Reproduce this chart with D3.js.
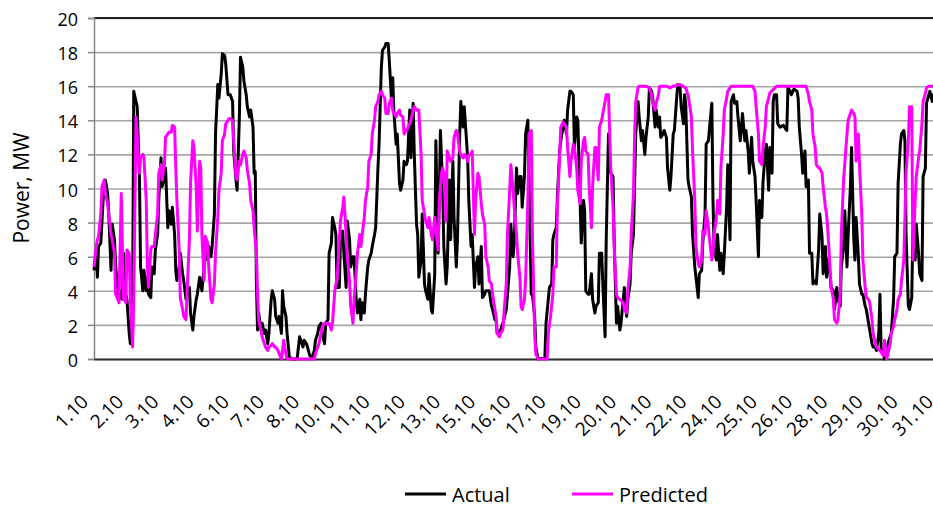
<!DOCTYPE html>
<html>
<head>
<meta charset="utf-8">
<script src="https://cdn.jsdelivr.net/npm/d3@7"></script>
<style>
  body { margin: 0; background: #fff; }
  #chart { width: 933px; height: 507px; overflow: hidden; }
  text { font-family: "Open Sans", sans-serif; fill: #000; }
</style>
</head>
<body>
<div id="chart"></div>
<script>
//tick labels, one every 31 hours
var dayLabels = ["1.10", "2.10", "3.10", "4.10", "6.10", "7.10", "8.10", "10.10", "11.10", "12.10", "13.10", "15.10", "16.10",
    "17.10", "19.10", "20.10", "21.10", "22.10", "24.10", "25.10", "26.10", "28.10", "29.10", "30.10", "31.10"];
var labelStep = 31;
var yTicks = [0, 2, 4, 6, 8, 10, 12, 14, 16, 18, 20];

//[hour of month, MW]
var actual = [[0,5.2],[2,6.4],[3,4.8],[4,6.6],[6,6.8],[8,9.3],[10,10.5],[12,9.7],[13,8.5],[15,5.2],[16,7.9],[18,7.0],[19,5.6],[21,3.8],[22,3.5],[24,4.0],[25,3.5],[26,6.2],[28,3.8],[29,3.5],[31,1.5],[32,0.9],[34,3.5],[35,15.7],[37,15.1],[38,14.8],[40,10.7],[41,5.4],[43,4.0],[44,5.2],[46,4.0],[47,4.8],[48,3.8],[50,3.6],[51,5.4],[53,5.0],[54,6.4],[56,7.3],[57,9.3],[59,11.8],[60,10.1],[62,10.7],[63,11.2],[65,7.7],[66,8.7],[68,7.9],[69,8.9],[71,7.3],[72,5.2],[73,4.6],[75,5.4],[76,6.2],[78,5.0],[79,4.6],[81,3.5],[82,4.0],[84,4.2],[85,2.7],[87,1.7],[88,2.5],[90,3.5],[91,3.8],[93,4.8],[94,4.4],[95,4.0],[97,5.4],[98,7.0],[100,5.8],[101,6.6],[103,6.0],[104,6.6],[106,8.5],[107,13.2],[109,16.1],
    [110,15.3],[112,16.7],[113,17.9],[115,17.8],[116,17.3],[118,15.5],[119,15.5],[120,15.5],[122,15.1],[123,12.2],[125,10.5],[126,9.9],[128,14.2],[129,17.7],[131,17.1],[132,16.3],[134,15.5],[135,14.8],[137,14.2],[138,14.6],[140,13.6],[141,10.9],[142,11.0],[143,4.4],[144,1.7],[145,2.7],[147,1.7],[148,2.1],[150,1.5],[151,1.7],[153,0.9],[154,1.5],[156,3.5],[157,4.0],[159,3.5],[160,2.5],[162,2.1],[163,2.5],[165,1.5],[166,4.0],[167,3.1],[169,2.5],[170,1.5],[172,0.1],[175,0],[178,0],[179,0.1],[181,1.3],[182,1.1],[184,0.7],[185,1.1],[187,0.9],[188,0.7],[190,0.2],[192,0.1],[194,0.5],[195,1.1],[197,1.5],[198,1.9],[200,2.1],[201,1.5],[203,0.9],[204,2.1],[206,2.3],[207,6.2],[209,6.8],[210,8.3],[212,7.7],[213,7.3],[214,4.2],[216,4.2],[217,7.0],[219,7.5],[220,6.2],[222,4.2],[223,8.1],[225,7.0],[226,5.4],[228,6.0],[229,6.0],[231,3.3],[232,2.7],[234,3.5],[235,2.3],[236,3.3],[238,2.7],[239,3.8],[241,5.4],[242,5.8],[244,6.2],[245,6.6],[247,7.3],[248,7.7],[250,11.2],
    [251,12.6],[253,17.1],[254,18.1],[256,18.3],[257,18.5],[259,18.5],[260,17.5],[262,15.1],[263,16.5],[264,14.6],[266,12.6],[267,13.2],[269,10.3],[270,9.9],[272,10.5],[273,11.6],[275,11.4],[276,11.6],[278,14.6],[279,11.8],[281,15.0],[282,12.0],[284,7.9],[285,7.3],[286,4.8],[288,5.8],[289,8.5],[291,4.4],[292,4.0],[294,3.5],[295,5.0],[297,2.9],[298,2.7],[300,5.0],[301,12.8],[303,6.2],[304,9.3],[305,13.4],[307,10.1],[308,6.6],[310,4.4],[311,5.4],[313,10.5],[314,7.0],[316,11.6],[317,8.3],[319,5.4],[320,7.0],[322,13.2],[323,15.1],[325,13.6],[326,14.8],[328,12.8],[329,11.8],[330,9.3],[332,6.6],[333,7.3],[335,4.2],[336,5.4],[338,6.0],[339,4.4],[341,6.6],[342,3.6],[344,3.8],[345,4.0],[348,4.0],[350,3.1],[351,2.9],[353,2.3],[354,2.3],[355,1.5],[357,1.5],[360,2.1],[363,2.9],[366,5.4],[367,7.9],[369,6.0],[370,6.8],[372,11.2],[373,9.7],[375,10.7],[376,10.7],[377,8.9],[379,10.7],[380,13.2],[382,14.0],[383,10.5],[385,3.8],[386,3.8],[388,2.5],[389,0.7],[391,0],
    [397,0.1],[398,2.1],[400,3.5],[401,4.2],[403,4.4],[404,7.0],[405,7.3],[407,7.7],[408,9.5],[410,12.2],[411,12.8],[413,13.6],[414,14.0],[416,13.2],[417,14.6],[419,15.7],[420,15.7],[422,15.5],[423,12.4],[425,14.2],[426,14.0],[428,9.3],[429,6.8],[431,9.3],[432,8.7],[433,4.0],[435,3.8],[436,3.8],[438,5.0],[439,3.5],[441,2.7],[442,3.1],[444,3.3],[445,6.2],[447,6.2],[448,4.4],[450,1.3],[451,7.0],[453,13.2],[454,11.6],[455,10.9],[457,10.7],[458,7.0],[460,2.1],[461,3.1],[463,1.7],[464,2.1],[466,3.5],[467,4.2],[469,2.5],[470,3.5],[472,4.4],[473,6.2],[475,7.3],[476,10.3],[477,13.2],[479,15.1],[480,14.2],[482,12.8],[483,13.4],[485,12.0],[486,13.0],[488,14.2],[489,15.9],[491,15.7],[492,15.3],[494,13.6],[495,14.6],[497,13.6],[498,14.2],[499,13.0],[501,13.2],[502,13.4],[504,13.0],[505,11.2],[507,9.9],[508,10.7],[510,13.2],[511,13.4],[513,15.3],[514,16.1],[516,15.9],[517,14.8],[519,13.8],[520,15.5],[521,15.0],[523,10.5],[524,10.1],[526,9.5],[527,7.3],[529,5.4],[530,4.8],[532,3.6],[533,5.0],[535,5.2],[536,6.8],[538,8.5],[539,12.6],[541,12.8],[542,13.6],[544,15.0],[545,9.3],[546,6.6],[548,5.8],[549,7.3],[551,5.2],[552,6.2],[554,5.0],[555,6.2],[557,8.9],[558,11.4],
    [560,7.0],[561,15.1],[563,15.5],[564,15.0],[566,15.1],[567,14.2],[569,12.8],[570,13.6],[571,14.4],[573,12.8],[574,13.4],[576,12.2],[577,10.9],[579,13.0],[580,11.6],[582,10.7],[583,9.3],[585,6.0],[586,9.3],[588,8.3],[589,10.3],[591,12.2],[592,12.6],[594,9.9],[595,12.4],[597,10.9],[598,15.1],[599,15.5],[601,15.5],[602,13.8],[604,13.6],[607,13.7],[608,13.6],[610,13.4],[611,15.9],[613,15.7],[614,15.5],[616,15.8],[617,15.8],[619,15.7],[620,15.3],[621,13.6],[623,12.0],[624,10.9],[626,12.2],[627,10.1],[629,10.5],[630,6.2],[632,6.2],[633,4.4],[635,4.6],[636,4.4],[638,6.4],[639,8.5],[641,7.2],[642,5.0],[644,6.6],[645,4.8],[646,5.8],[648,5.0],[649,4.2],[651,4.0],[652,2.9],[654,4.2],[655,3.5],[657,3.1],[658,5.4],[660,6.6],[661,8.7],[663,5.4],[664,7.3],[666,10.1],[667,12.4],[669,7.0],[670,5.8],[671,8.3],[673,6.0],[674,4.4],[676,3.8],[677,3.8],[679,3.1],[680,2.9],[682,2.1],[683,1.7],[685,0.9],[686,0.7],[688,0.7],[689,0.5],[691,1.5],[692,3.8],[693,0.7],[695,0.3],[696,0],[698,0.3],[699,0.9],[701,1.3],[702,1.5],[704,3.5],[705,6.0],[707,6.2],[708,10.3],[710,12.6],[711,13.2],[713,13.4],[714,12.8],[715,7.3],[717,3.1],[718,2.9],[720,3.6],[721,7.5],[723,5.8],[724,7.9],[726,6.2],[727,5.0],[729,4.6],[730,10.7],[732,11.2],[733,15.0],[735,15.5],[736,15.7],[738,15.1],[739,15.5],[741,14.8],[744,15.2]];

var predicted = [[0,5.4],[2,6.6],[3,7.0],[4,7.2],[6,8.5],[7,10.1],[9,10.5],[10,9.7],[12,9.1],[13,8.5],[15,7.3],[16,7.0],[18,6.2],[19,3.8],[21,3.5],[22,3.3],[23,6.4],[24,9.7],[26,3.5],[27,3.5],[28,3.3],[29,6.4],[31,6.2],[32,3.5],[34,0.7],[35,3.5],[37,14.2],[38,13.2],[40,10.9],[41,11.8],[43,12.0],[44,11.8],[46,9.3],[47,5.4],[48,4.2],[50,6.4],[51,6.6],[53,6.6],[54,7.3],[56,8.5],[57,10.9],[59,11.4],[60,10.5],[62,11.4],[63,13.0],[65,13.2],[66,13.3],[68,13.3],[69,13.7],[71,13.6],[72,11.2],[73,9.3],[75,6.4],[76,3.6],[78,2.9],[79,2.5],[81,2.3],[82,4.0],[84,7.0],[85,10.3],[87,12.8],[88,12.4],[90,10.1],[91,7.5],[93,11.6],[94,11.2],[95,7.3],[97,4.6],[98,7.2],[100,6.8],[101,5.4],[103,3.5],[104,3.3],[106,4.4],[107,6.2],[109,8.3],
    [110,9.9],[112,10.9],[113,12.8],[115,13.2],[116,13.8],[118,14.0],[119,14.1],[120,14.1],[122,14.0],[123,12.8],[125,10.7],[126,10.5],[128,11.6],[129,11.4],[131,12.0],[132,12.2],[134,11.8],[135,11.1],[137,10.3],[138,9.3],[140,8.7],[141,7.7],[143,6.2],[144,3.8],[145,2.3],[147,1.7],[148,1.3],[151,0.7],[153,0.5],[154,0.7],[156,0.8],[157,0.9],[159,0.7],[160,0.7],[162,0.5],[163,0.3],[165,0],[166,0.5],[167,1.1],[169,0.3],[170,0],[194,0],[195,0.3],[197,0.7],[198,0.9],[200,1.5],[201,1.9],[203,2.1],[207,2.1],[209,1.7],[210,2.1],[212,4.0],[213,4.4],[214,4.6],[216,7.0],[217,8.1],[219,8.9],[220,9.5],[222,7.3],[223,6.0],[225,4.6],[226,3.1],[228,2.1],[229,3.5],[231,5.2],[232,6.2],[234,7.3],[235,6.6],[236,7.2],[238,8.3],[239,9.3],[241,10.1],[242,11.6],[244,12.0],[245,13.2],[247,14.0],[248,14.8],[250,15.1],
    [251,15.5],[253,15.7],[254,15.5],[256,15.3],[257,14.4],[259,14.4],[260,15.0],[262,15.3],[263,14.6],[264,14.4],[266,14.2],[267,14.4],[269,14.6],[270,14.3],[272,14.2],[273,13.2],[275,13.4],[276,13.5],[278,13.8],[279,14.0],[281,14.6],[282,14.8],[284,14.6],[286,14.6],[288,12.0],[289,9.3],[291,8.5],[292,8.1],[294,7.7],[295,8.3],[297,7.3],[298,7.0],[300,8.3],[301,7.5],[303,6.4],[304,9.3],[306,10.9],[307,11.2],[308,10.9],[310,8.1],[311,12.2],[313,11.8],[314,11.6],[316,11.8],[317,13.0],[319,13.4],[320,13.2],[322,12.2],[323,12.0],[325,11.8],[326,12.0],[328,11.8],[329,11.6],[330,12.0],[332,12.0],[333,12.2],[335,7.3],[336,9.3],[338,10.9],[339,10.7],[341,9.1],[342,8.5],[344,7.9],[345,6.0],[347,5.4],[348,4.6],[350,4.4],[351,3.8],[353,2.9],[354,2.5],[355,1.5],[357,1.3],[358,1.5],[360,1.7],[361,2.7],[363,4.4],[364,7.3],[366,9.9],[367,11.4],[369,9.9],[370,8.9],[372,7.3],[373,6.2],[375,4.8],[376,3.1],[377,2.9],[379,3.5],[380,4.6],[382,9.3],[383,13.2],[385,13.4],[386,7.3],[388,1.5],[389,0.3],[391,0],
    [399,0],[400,1.5],[402,2.5],[404,3.8],[405,5.4],[407,5.4],[408,8.9],[410,12.0],[411,13.6],[413,13.9],[414,13.8],[416,13.6],[417,12.4],[419,10.7],[420,11.6],[422,12.6],[423,12.4],[425,11.2],[426,9.9],[428,9.1],[429,11.6],[431,12.8],[432,13.0],[433,12.2],[435,12.0],[436,10.1],[438,7.7],[439,10.1],[441,12.4],[442,12.4],[444,10.5],[445,13.6],[447,14.0],[448,14.4],[450,15.1],[451,15.5],[453,15.5],[454,13.4],[455,11.2],[457,8.9],[458,6.6],[460,3.8],[461,3.6],[463,3.5],[466,3.3],[467,2.9],[469,2.7],[470,4.0],[472,5.4],[473,7.3],[475,9.7],[476,13.2],[477,15.1],[479,15.9],[480,16.0],[486,16.0],[489,15.9],[491,15.5],[492,15.0],[494,14.6],[495,15.0],[497,15.5],[498,16.0],[504,16.0],[507,15.9],[510,16.0],[516,16.1],[521,15.9],[523,15.5],[524,15.1],[526,14.2],[527,12.2],[529,9.3],[530,6.6],[532,5.6],[533,5.4],[535,5.8],[536,7.5],[538,7.3],[539,8.7],[541,7.7],[542,7.0],[544,5.8],[545,6.2],[546,7.3],[548,8.3],[549,9.3],[551,8.5],[552,11.2],[554,13.2],[555,14.6],[557,15.3],[558,15.7],
    [560,15.9],[561,16.0],[580,16.0],[582,15.7],[583,14.8],[585,13.2],[586,11.6],[588,11.4],[589,12.4],[591,13.6],[592,14.8],[594,15.3],[595,15.6],[598,15.8],[601,16.0],[627,16.0],[629,15.5],[630,15.1],[632,14.6],[633,13.2],[635,12.4],[636,11.4],[638,11.2],[639,11.2],[641,10.9],[642,10.1],[644,8.9],[645,8.5],[646,7.7],[648,5.4],[649,4.2],[651,3.5],[652,2.3],[654,2.1],[655,2.3],[657,3.8],[658,7.3],[660,10.5],[661,11.4],[663,13.2],[664,14.0],[666,14.4],[667,14.6],[669,14.4],[670,14.2],[671,11.6],[673,13.2],[674,11.4],[676,8.5],[677,5.8],[679,4.2],[680,3.6],[682,3.5],[683,3.3],[685,2.3],[686,1.5],[688,0.9],[689,0.7],[692,0.5],[695,0.2],[696,1.1],[698,0],[699,0.3],[701,0.9],[702,1.5],[704,1.9],[705,2.3],[707,2.9],[708,3.5],[710,3.8],[711,4.6],[713,5.8],[714,8.3],[715,10.9],[717,12.8],[718,14.8],[720,14.8],[721,5.8],[723,9.3],[724,10.7],[726,11.8],[727,12.2],[729,13.8],[730,15.1],[732,15.6],[733,15.9],[735,16.0],[744,16.0]];

var seriesNames = ["Actual", "Predicted"],
    seriesColors = ["#000000", "#ff00ff"];

//chart frame dimensions
var svgWidth = 933,
    svgHeight = 507,
    leftPadding = 94,
    topPadding = 18,
    chartInnerWidth = 845,
    chartInnerHeight = 341;

var x = d3.scaleLinear()
    .domain([0, labelStep * (dayLabels.length - 1)])
    .range([0, chartInnerWidth]);

var y = d3.scaleLinear()
    .domain([0, 20])
    .range([chartInnerHeight, 0]);

function makeChart() {
    var svg = d3.select("#chart")
        .append("svg")
        .attr("width", svgWidth)
        .attr("height", svgHeight);

    var chart = svg.append("g")
        .attr("transform", "translate(" + leftPadding + "," + topPadding + ")");

    //horizontal gridlines
    chart.append("g")
        .attr("class", "grid")
        .call(d3.axisLeft(y).tickValues(yTicks).tickSize(-chartInnerWidth).tickFormat(""))
        .call(function(g) { g.select(".domain").remove(); })
        .selectAll("line")
            .attr("stroke", "#a6a6a6")
            .attr("stroke-width", 1.6);

    //top border
    chart.append("line")
        .attr("x1", 0)
        .attr("x2", chartInnerWidth)
        .attr("y1", y(20))
        .attr("y2", y(20))
        .attr("stroke", "#222")
        .attr("stroke-width", 2);

    //y axis
    var yAxis = chart.append("g")
        .call(d3.axisLeft(y).tickValues(yTicks).tickSize(6).tickPadding(10));
    yAxis.select(".domain").attr("stroke", "#868686").attr("stroke-width", 1.5);
    yAxis.selectAll(".tick line").attr("stroke", "#868686").attr("stroke-width", 1.5);
    yAxis.selectAll("text")
        .attr("dy", "0.42em")
        .style("font-size", "18px")
        .style("font-family", "'Open Sans', sans-serif");

    //x axis, labels every 31 hours
    var xAxis = chart.append("g")
        .attr("transform", "translate(0," + chartInnerHeight + ")")
        .call(d3.axisBottom(x)
            .tickValues(d3.range(dayLabels.length).map(function(i) { return i * labelStep; }))
            .tickFormat(function(d, i) { return dayLabels[i]; })
            .tickSize(0));
    xAxis.select(".domain").attr("stroke", "#333").attr("stroke-width", 2);
    xAxis.selectAll("text")
        .attr("x", 0)
        .attr("y", 0)
        .attr("dy", null)
        .attr("transform", "translate(-5,44) rotate(-45)")
        .style("text-anchor", "end")
        .style("font-size", "19px")
        .style("font-family", "'Open Sans', sans-serif");

    //y axis title
    svg.append("text")
        .attr("transform", "translate(29," + (topPadding + 170) + ") rotate(-90)")
        .style("text-anchor", "middle")
        .style("font-size", "21px")
        .text("Power, MW");

    var line = d3.line()
        .x(function(d) { return x(d[0]); })
        .y(function(d) { return y(d[1]); });

    [actual, predicted].forEach(function(data, i) {
        chart.append("path")
            .datum(data)
            .attr("fill", "none")
            .attr("stroke", seriesColors[i])
            .attr("stroke-width", 3)
            .attr("stroke-linejoin", "round")
            .attr("d", line);
    });

    //legend
    var legend = svg.selectAll(".legend")
        .data(seriesNames)
        .enter()
        .append("g")
            .attr("class", "legend")
            .attr("transform", function(d, i) { return "translate(" + (405 + i * 167) + ",494)"; });
    legend.append("line")
        .attr("x1", 0)
        .attr("x2", 41)
        .attr("stroke", function(d, i) { return seriesColors[i]; })
        .attr("stroke-width", 3);
    legend.append("text")
        .attr("x", 47)
        .attr("y", 8)
        .style("font-size", "20px")
        .text(function(d) { return d; });
}

document.addEventListener('DOMContentLoaded', makeChart);
</script>
</body>
</html>
